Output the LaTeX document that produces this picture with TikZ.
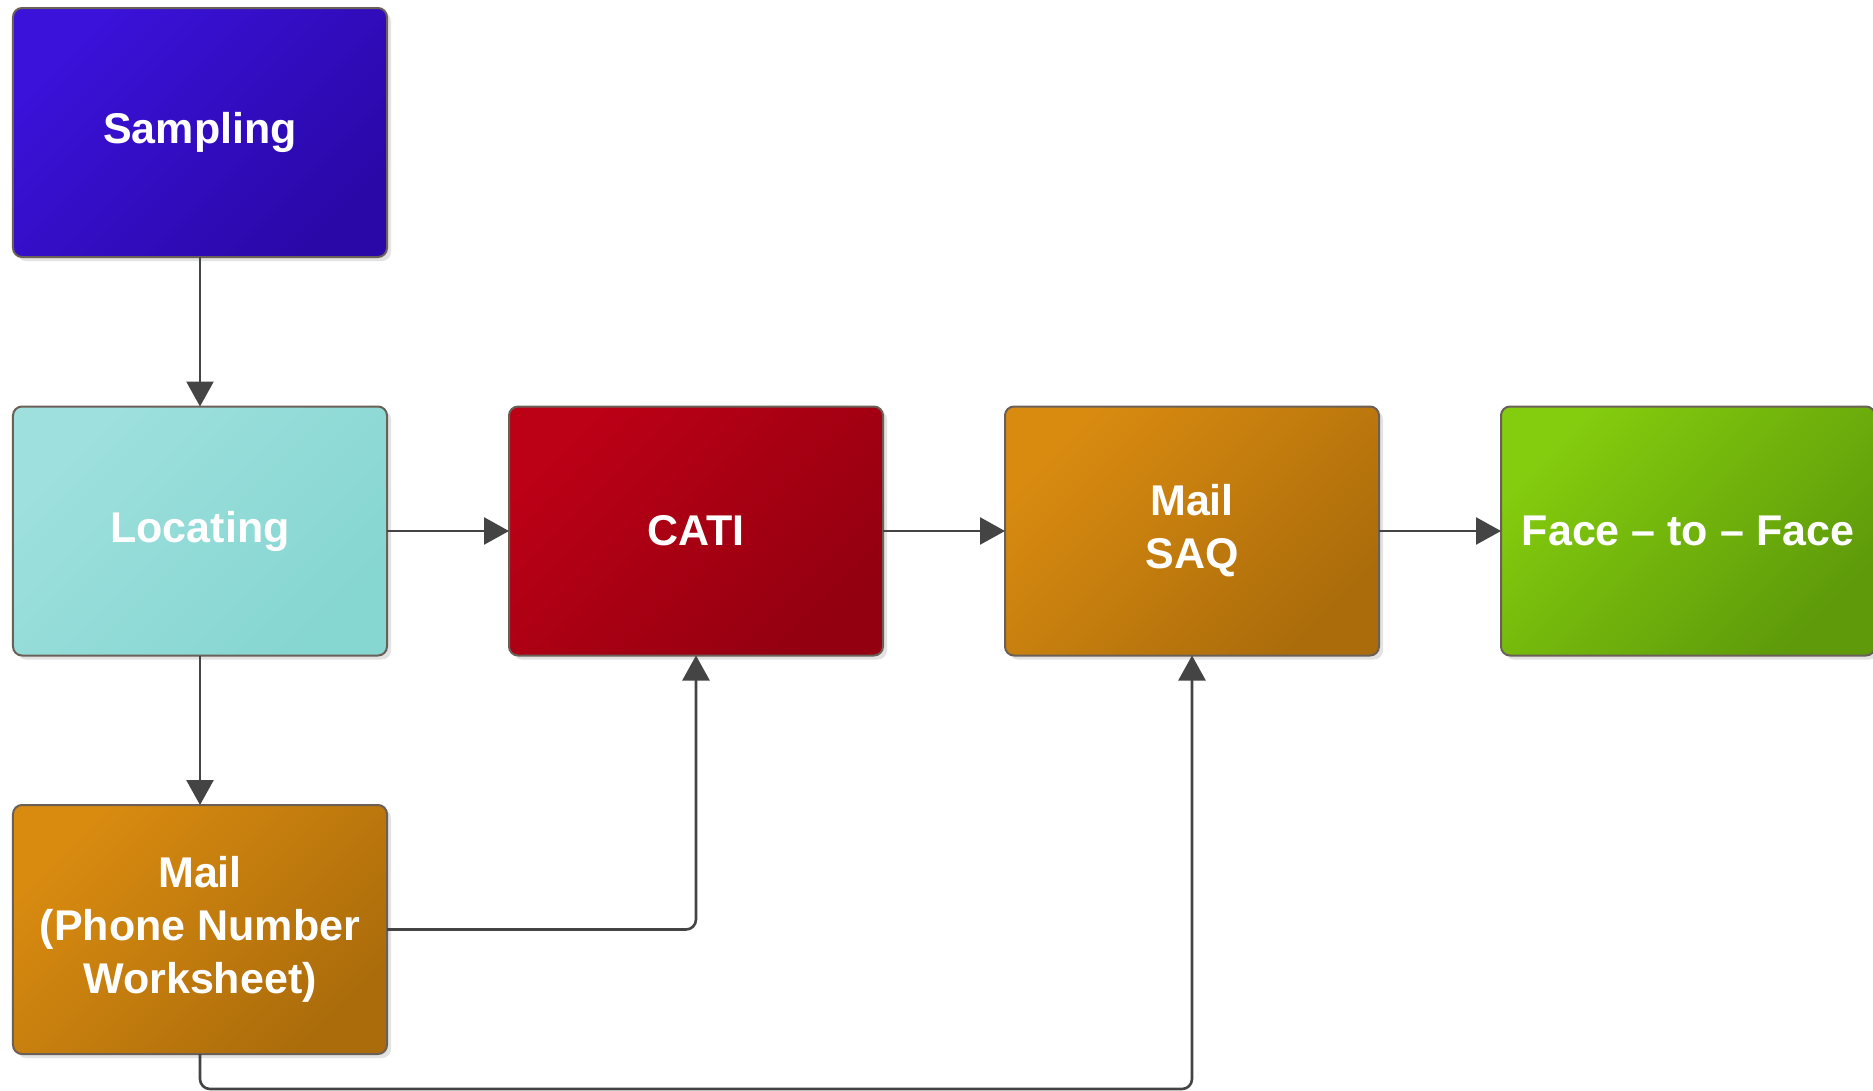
\documentclass[tikz,border=0pt]{standalone}
\usepackage{fontspec}
\setmainfont{Liberation Sans}
\usepackage{xcolor}
\usetikzlibrary{matrix, positioning, arrows.meta, shadows}
\definecolor{edge}{HTML}{6B6058}
\definecolor{wire}{HTML}{444444}
\definecolor{sampA}{HTML}{3A12DA}
\definecolor{sampB}{HTML}{2A08A8}
\definecolor{locA}{HTML}{9EE0DD}
\definecolor{locB}{HTML}{86D6D2}
\definecolor{catiA}{HTML}{BC0016}
\definecolor{catiB}{HTML}{930010}
\definecolor{mailA}{HTML}{D98B10}
\definecolor{mailB}{HTML}{AB6C0B}
\definecolor{faceA}{HTML}{84CC0E}
\definecolor{faceB}{HTML}{5E9A0A}

\begin{document}
\begin{tikzpicture}[x=1pt, y=-1pt,
    box/.style={rectangle, rounded corners=9pt, draw=edge, line width=2pt, minimum width=374pt, minimum height=249pt, align=center, text=white, font=\fontsize{43}{53}\selectfont\bfseries, drop shadow={shadow xshift=4pt, shadow yshift=-4pt, fill=black!22}},
    tint/.style 2 args={top color=#1, bottom color=#2, shading angle=45},
    arrow/.style={-{Triangle[length=25pt, width=27pt]}, line width=2.6pt, wire}
  ]

    \useasboundingbox (0,0) rectangle (1873,1091);

    \matrix[row sep=147.5pt, column sep=120pt, inner sep=0pt, outer sep=0pt, anchor=north west] at (12,7) {
      \node[box, tint={sampA}{sampB}] (sampling) {Sampling}; & & & \\
      \node[box, tint={locA}{locB}] (locating) {Locating}; &
      \node[box, tint={catiA}{catiB}] (cati) {CATI}; &
      \node[box, tint={mailA}{mailB}] (saq) {Mail\\SAQ}; &
      \node[box, tint={faceA}{faceB}] (face) {Face -- to -- Face}; \\
      \node[box, tint={mailA}{mailB}] (mailpn) {Mail\\(Phone Number\\Worksheet)}; & & & \\
    };

    \draw[arrow] (sampling) -- (locating);
    \draw[arrow] (locating) -- (cati);
    \draw[arrow] (cati) -- (saq);
    \draw[arrow] (saq) -- (face);
    \draw[arrow] (locating) -- (mailpn);

    % returns from the phone-number mailing
    \draw[arrow, rounded corners=10pt] (mailpn.east) -| (cati.south);
    \draw[arrow, rounded corners=10pt] (mailpn.south) -- ++(0,35) -| (saq.south);

  \end{tikzpicture}
\end{document}
